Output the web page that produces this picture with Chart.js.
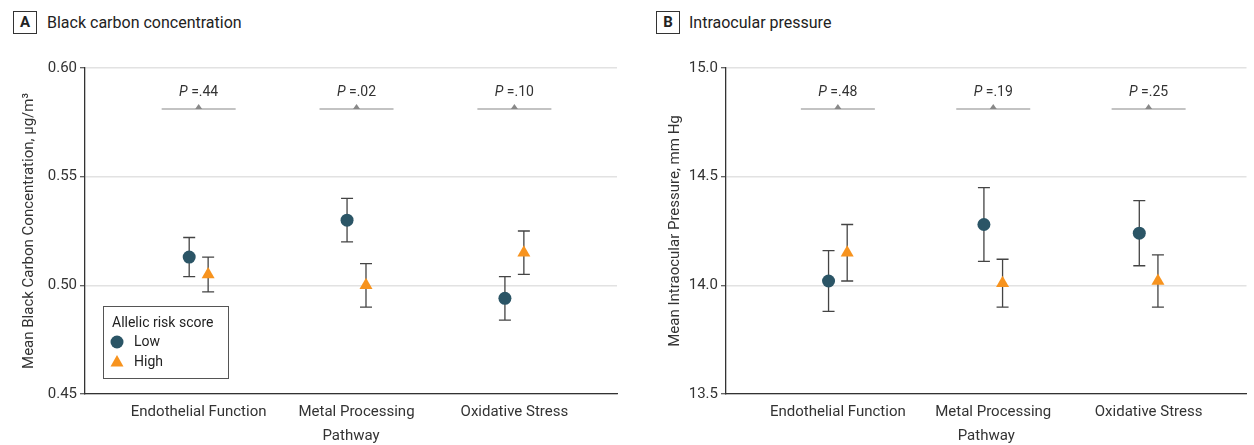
<!DOCTYPE html>
<html>
<head>
<meta charset="utf-8">
<script src="https://cdn.jsdelivr.net/npm/chart.js@4.4.0/dist/chart.umd.min.js"></script>
<style>
  body { margin: 0; background: #fff; font-family: Roboto, sans-serif; }
  #wrap { position: relative; width: 1254px; height: 445px; overflow: hidden; }
  .panel { position: absolute; top: 0; height: 445px; }
  .tag { position: absolute; top: 11px; width: 22px; height: 21px; border: 1px solid #333; font: bold 15px Roboto, sans-serif; color: #222; text-align: center; line-height: 21px; }
  .head { position: absolute; top: 12px; font: 16px Roboto, sans-serif; color: #222; line-height: 22px; }
</style>
</head>
<body>
<div id="wrap">
  <div class="tag" style="left:13px">A</div>
  <div class="head" style="left:47px">Black carbon concentration</div>
  <div class="tag" style="left:656px">B</div>
  <div class="head" style="left:689px">Intraocular pressure</div>
  <div class="panel" style="left:0;width:627px"><canvas id="chartA" width="627" height="445"></canvas></div>
  <div class="panel" style="left:627px;width:627px"><canvas id="chartB" width="627" height="445"></canvas></div>
</div>
<script>
const pathways = ['Endothelial Function', 'Metal Processing', 'Oxidative Stress'];

// A - black carbon (ug/m3)
const bcLow = [0.513, 0.530, 0.494];
const bcLowLo = [0.504, 0.520, 0.484];
const bcLowHi = [0.522, 0.540, 0.504];
const bcHigh = [0.505, 0.500, 0.515];
const bcHighLo = [0.497, 0.490, 0.505];
const bcHighHi = [0.513, 0.510, 0.525];
const bcP = ['.44', '.02', '.10'];
const bcTicks = [0.45, 0.50, 0.55, 0.60];

// B - intraocular pressure (mm Hg)
const iopLow = [14.02, 14.28, 14.24];
const iopLowLo = [13.88, 14.11, 14.09];
const iopLowHi = [14.16, 14.45, 14.39];
const iopHigh = [14.15, 14.01, 14.02];
const iopHighLo = [14.02, 13.90, 13.90];
const iopHighHi = [14.28, 14.12, 14.14];
const iopP = ['.48', '.19', '.25'];
const iopTicks = [13.5, 14.0, 14.5, 15.0];

const corLow = '#2b5566';
const corHigh = '#f7931e';
const fonte = 'Roboto, sans-serif';
const desvio = 0.06; // side shift of the two groups inside a pathway

function pontos(vals, lado) {
  return vals.map((v, i) => ({ x: i + 1 + lado * desvio, y: v }));
}

const errorBars = {
  id: 'errorBars',
  beforeDatasetsDraw(chart, args, opts) {
    const { ctx, scales: { x, y } } = chart;
    ctx.save();
    ctx.strokeStyle = '#444';
    ctx.lineWidth = 1.3;
    chart.data.datasets.forEach((ds, di) => {
      const lo = opts.lo[di], hi = opts.hi[di];
      ds.data.forEach((p, i) => {
        const px = x.getPixelForValue(p.x);
        const y1 = y.getPixelForValue(lo[i]);
        const y2 = y.getPixelForValue(hi[i]);
        ctx.beginPath();
        ctx.moveTo(px, y1); ctx.lineTo(px, y2);
        ctx.moveTo(px - 6, y1); ctx.lineTo(px + 6, y1);
        ctx.moveTo(px - 6, y2); ctx.lineTo(px + 6, y2);
        ctx.stroke();
      });
    });
    ctx.restore();
  }
};

const pAnnot = {
  id: 'pAnnot',
  afterDatasetsDraw(chart, args, opts) {
    const { ctx, chartArea, scales: { x } } = chart;
    ctx.save();
    opts.valores.forEach((p, i) => {
      const cx = x.getPixelForValue(i + 1);
      const ly = chartArea.top + 41;
      ctx.strokeStyle = '#888';
      ctx.lineWidth = 1.2;
      ctx.beginPath();
      ctx.moveTo(cx - 37, ly); ctx.lineTo(cx + 37, ly);
      ctx.stroke();
      ctx.fillStyle = '#888';
      ctx.beginPath();
      ctx.moveTo(cx - 3.5, ly); ctx.lineTo(cx + 3.5, ly); ctx.lineTo(cx, ly - 5);
      ctx.closePath(); ctx.fill();
      // "P =.44" with italic P
      ctx.fillStyle = '#333';
      ctx.textBaseline = 'alphabetic';
      const fP = 'italic 14px ' + fonte, fR = '14px ' + fonte;
      const resto = ' =' + p;
      ctx.font = fP; const wP = ctx.measureText('P').width;
      ctx.font = fR; const wR = ctx.measureText(resto).width;
      const x0 = cx - (wP + wR) / 2;
      const by = chartArea.top + 28;
      ctx.font = fP; ctx.textAlign = 'left'; ctx.fillText('P', x0, by);
      ctx.font = fR; ctx.fillText(resto, x0 + wP, by);
    });
    ctx.restore();
  }
};

const legendaBox = {
  id: 'legendaBox',
  afterDraw(chart, args, opts) {
    if (!opts.show) return;
    const ctx = chart.ctx;
    ctx.save();
    ctx.fillStyle = '#fff';
    ctx.fillRect(103, 306, 125, 72);
    ctx.strokeStyle = '#555';
    ctx.lineWidth = 1;
    ctx.strokeRect(103.5, 306.5, 125, 72);
    ctx.fillStyle = '#222';
    ctx.font = '14px ' + fonte;
    ctx.textBaseline = 'middle';
    ctx.textAlign = 'left';
    ctx.fillText('Allelic risk score', 112, 323);
    ctx.fillText('Low', 134, 342);
    ctx.fillText('High', 134, 362);
    ctx.fillStyle = corLow;
    ctx.beginPath(); ctx.arc(117, 342, 6.5, 0, Math.PI * 2); ctx.fill();
    ctx.fillStyle = corHigh;
    ctx.beginPath();
    ctx.moveTo(117, 355); ctx.lineTo(123.5, 366.5); ctx.lineTo(110.5, 366.5);
    ctx.closePath(); ctx.fill();
    ctx.restore();
  }
};

function montaPainel(canvasId, c) {
  return new Chart(document.getElementById(canvasId), {
    type: 'scatter',
    data: {
      datasets: [
        { label: 'Low', data: pontos(c.low, -1), pointStyle: 'circle', pointRadius: 6.5, backgroundColor: corLow, borderColor: corLow, borderWidth: 0 },
        { label: 'High', data: pontos(c.high, 1), pointStyle: 'triangle', pointRadius: 7.5, backgroundColor: corHigh, borderColor: corHigh, borderWidth: 0 }
      ]
    },
    options: {
      responsive: false,
      animation: false,
      layout: { padding: { left: c.padLeft, right: c.padRight, top: 68, bottom: 0 } },
      plugins: {
        legend: { display: false },
        tooltip: { enabled: false },
        errorBars: { lo: [c.lowLo, c.highLo], hi: [c.lowHi, c.highHi] },
        pAnnot: { valores: c.p },
        legendaBox: { show: c.legenda }
      },
      scales: {
        x: {
          type: 'linear',
          min: 0.28,
          max: c.xMax,
          afterBuildTicks: s => { s.ticks = pathways.map((_, i) => ({ value: i + 1 })); },
          afterFit: s => { s.height = 51; },
          ticks: { callback: (v) => pathways[v - 1], color: '#333', font: { family: fonte, size: 15 }, padding: 9, autoSkip: false, maxRotation: 0 },
          grid: { display: false, drawTicks: false },
          border: { display: true, color: '#333', width: 1.3 },
          title: { display: true, text: 'Pathway', color: '#333', font: { family: fonte, size: 15 }, padding: 0 }
        },
        y: {
          min: c.ticks[0],
          max: c.ticks[c.ticks.length - 1],
          afterBuildTicks: s => { s.ticks = c.ticks.map(v => ({ value: v })); },
          afterFit: s => { s.width = c.yWidth; },
          ticks: { callback: v => v.toFixed(c.casas), color: '#333', font: { family: fonte, size: 15 }, padding: 3 },
          grid: { color: '#e2e2e2', lineWidth: 1.5, tickColor: '#333', tickLength: 5, tickWidth: 1 },
          border: { display: true, color: '#333', width: 1.3 },
          title: { display: true, text: c.yTitulo, color: '#333', font: { family: fonte, size: 15 }, padding: { top: 4, bottom: 0 } }
        }
      }
    },
    plugins: [errorBars, pAnnot, legendaBox]
  });
}

montaPainel('chartA', {
  low: bcLow, lowLo: bcLowLo, lowHi: bcLowHi,
  high: bcHigh, highLo: bcHighLo, highHi: bcHighHi,
  p: bcP, ticks: bcTicks, casas: 2,
  yTitulo: 'Mean Black Carbon Concentration, \u00b5g/m\u00b3',
  padLeft: 16, yWidth: 69, padRight: 10, xMax: 3.65, legenda: true
});

montaPainel('chartB', {
  low: iopLow, lowLo: iopLowLo, lowHi: iopLowHi,
  high: iopHigh, highLo: iopHighLo, highHi: iopHighHi,
  p: iopP, ticks: iopTicks, casas: 1,
  yTitulo: 'Mean Intraocular Pressure, mm Hg',
  padLeft: 35, yWidth: 64, padRight: 0, xMax: 3.63, legenda: false
});
</script>
</body>
</html>
